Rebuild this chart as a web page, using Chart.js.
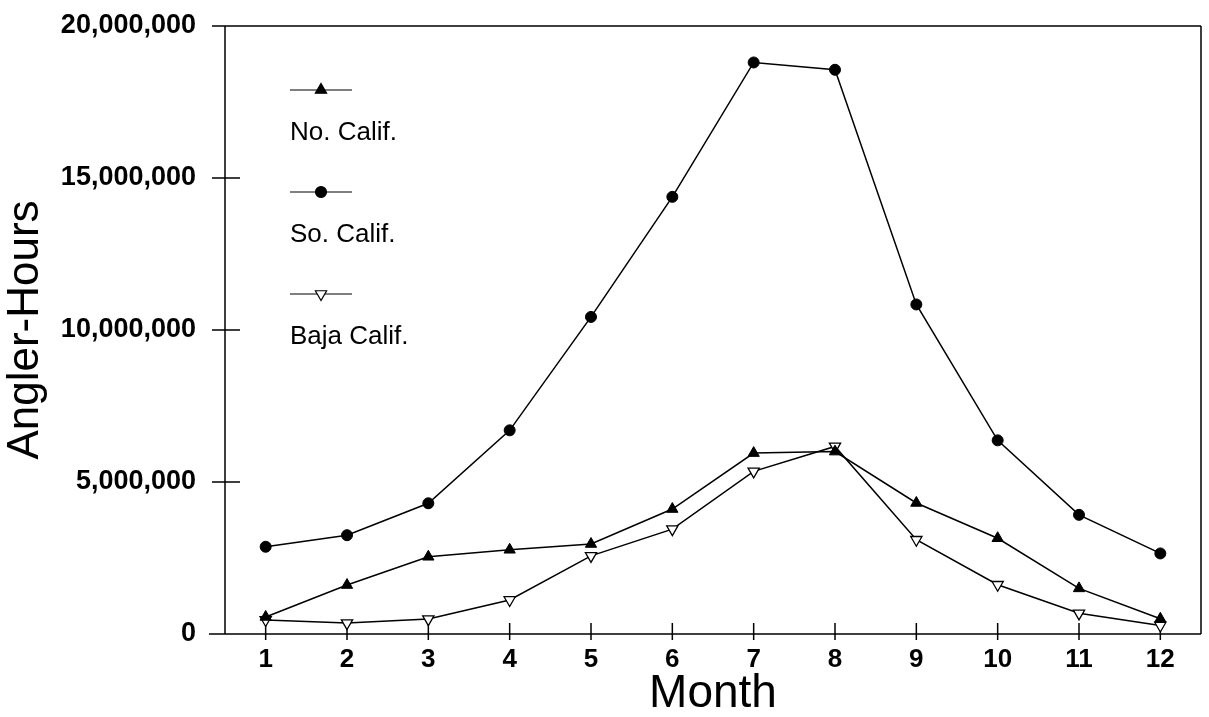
<!DOCTYPE html>
<html>
<head>
<meta charset="utf-8">
<script src="https://cdn.jsdelivr.net/npm/chart.js@4"></script>
<style>
  body { margin: 0; background: #fff; }
  canvas { display: block; }
</style>
</head>
<body>
<canvas id="anglerChart" width="1209" height="717"></canvas>
<script>
// values (angler-hours per month)
const months = ["1", "2", "3", "4", "5", "6", "7", "8", "9", "10", "11", "12"];
const noCalif = [560000, 1610000, 2540000, 2770000, 2960000, 4110000, 5950000, 6000000, 4310000, 3150000, 1500000, 500000];
const soCalif = [2870000, 3250000, 4300000, 6700000, 10430000, 14380000, 18800000, 18560000, 10840000, 6370000, 3920000, 2650000];
const bajaCalif = [460000, 360000, 490000, 1120000, 2570000, 3450000, 5350000, 6170000, 3100000, 1620000, 680000, 280000];
const yTicks = [0, 5000000, 10000000, 15000000, 20000000];

const FONT = '"Liberation Sans", Arial, sans-serif';

// frame + tick marks that cross the axis lines, like the original
const frame = {
    id: "frame",
    beforeDatasetsDraw(chart) {
        const { ctx, chartArea: a, scales: { x, y } } = chart;
        ctx.save();
        ctx.strokeStyle = "#000";
        ctx.lineWidth = 1.5;
        ctx.beginPath();
        ctx.moveTo(a.left - 16, a.bottom); ctx.lineTo(a.right, a.bottom);
        ctx.moveTo(a.left - 13, a.top); ctx.lineTo(a.right, a.top);
        ctx.moveTo(a.left, a.top); ctx.lineTo(a.left, a.bottom);
        ctx.moveTo(a.right, a.top); ctx.lineTo(a.right, a.bottom);
        x.ticks.forEach((t, i) => {
            const px = x.getPixelForTick(i);
            ctx.moveTo(px, a.bottom - 11); ctx.lineTo(px, a.bottom + 6);
        });
        y.ticks.forEach((t, i) => {
            const py = y.getPixelForTick(i);
            ctx.moveTo(a.left - 13, py); ctx.lineTo(a.left + 15, py);
        });
        ctx.stroke();
        ctx.restore();
    }
};

// legend inside the plot: short line with marker, label underneath
const insideLegend = {
    id: "insideLegend",
    afterDraw(chart) {
        const { ctx, chartArea: a } = chart;
        ctx.save();
        chart.data.datasets.forEach((ds, i) => {
            const ly = a.top + 64 + i * 102;
            const lx = a.left + 65;
            ctx.strokeStyle = "#000";
            ctx.lineWidth = 1.2;
            ctx.beginPath();
            ctx.moveTo(lx, ly); ctx.lineTo(lx + 62, ly);
            ctx.stroke();
            ctx.fillStyle = ds.pointBackgroundColor;
            ctx.strokeStyle = ds.pointBorderColor;
            Chart.helpers.drawPoint(ctx, {
                pointStyle: ds.pointStyle,
                radius: ds.pointRadius,
                rotation: ds.pointRotation || 0,
                borderWidth: 1.2
            }, lx + 31, ly);
            ctx.fillStyle = "#000";
            ctx.font = "26px " + FONT;
            ctx.textAlign = "left";
            ctx.textBaseline = "middle";
            ctx.fillText(ds.label, lx, ly + 43);
        });
        ctx.restore();
    }
};

new Chart(document.getElementById("anglerChart").getContext("2d"), {
    type: "line",
    data: {
        labels: months,
        datasets: [{
            label: "No. Calif.",
            data: noCalif,
            borderColor: "#000",
            borderWidth: 1.5,
            pointStyle: "triangle",
            pointRadius: 6.5,
            pointBackgroundColor: "#000",
            pointBorderColor: "#000",
            pointBorderWidth: 1
        }, {
            label: "So. Calif.",
            data: soCalif,
            borderColor: "#000",
            borderWidth: 1.5,
            pointStyle: "circle",
            pointRadius: 5.5,
            pointBackgroundColor: "#000",
            pointBorderColor: "#000",
            pointBorderWidth: 1
        }, {
            label: "Baja Calif.",
            data: bajaCalif,
            borderColor: "#000",
            borderWidth: 1.5,
            pointStyle: "triangle",
            pointRotation: 180,
            pointRadius: 6.5,
            pointBackgroundColor: "#fff",
            pointBorderColor: "#000",
            pointBorderWidth: 1.3
        }]
    },
    options: {
        responsive: false,
        animation: false,
        layout: { padding: { top: 26, right: 8, left: 0, bottom: 0 } },
        plugins: {
            legend: { display: false },
            tooltip: { enabled: false }
        },
        scales: {
            x: {
                type: "category",
                offset: true,
                grid: { display: false },
                border: { display: false },
                ticks: {
                    color: "#000",
                    padding: 2,
                    maxRotation: 0,
                    font: { family: FONT, size: 26, weight: "bold" }
                },
                title: {
                    display: true,
                    text: "Month",
                    color: "#000",
                    padding: { top: 0, bottom: 0 },
                    font: { family: FONT, size: 46, lineHeight: 1 }
                },
                afterFit(scale) { scale.height = 83; }
            },
            y: {
                min: 0,
                max: 20000000,
                grid: { display: false },
                border: { display: false },
                afterBuildTicks(scale) {
                    scale.ticks = yTicks.map(v => ({ value: v }));
                },
                ticks: {
                    color: "#000",
                    padding: 21,
                    font: { family: FONT, size: 27, weight: "bold" },
                    callback: v => v.toLocaleString("en-US")
                },
                title: {
                    display: true,
                    text: "Angler-Hours",
                    color: "#000",
                    padding: { top: 4, bottom: 0 },
                    font: { family: FONT, size: 44, lineHeight: 1 }
                },
                afterFit(scale) {
                    scale.width = 225;
                    scale.paddingTop = 0;
                    scale.paddingBottom = 0;
                }
            }
        }
    },
    plugins: [frame, insideLegend]
});
</script>
</body>
</html>
